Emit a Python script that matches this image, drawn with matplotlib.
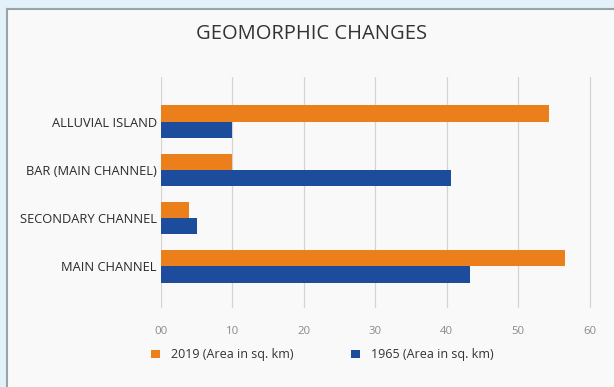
import numpy as np
import matplotlib
matplotlib.use("Agg")
import matplotlib.pyplot as plt
from matplotlib.patches import Rectangle

categories = ["ALLUVIAL ISLAND", "BAR (MAIN CHANNEL)", "SECONDARY CHANNEL", "MAIN CHANNEL"]
area_2019 = [54.3, 10.0, 4.0, 56.6]
area_1965 = [10.0, 40.6, 5.0, 43.2]
xticks = [0, 10, 20, 30, 40, 50, 60]
xtick_labels = ["00", "10", "20", "30", "40", "50", "60"]

orange = "#EB7F1C"
blue = "#1D4C9C"

plt.rcParams["font.family"] = ["Open Sans", "DejaVu Sans"]

fig = plt.figure(figsize=(6.14, 3.87), dpi=100)
fig.patch.set_facecolor("#f9f9f9")

# screenshot frame: light blue strip with grey inner edge
fig.patches.append(Rectangle((0, 0.978), 1, 0.022, transform=fig.transFigure,
                             facecolor="#e3f1fb", edgecolor="none", zorder=0))
fig.patches.append(Rectangle((0, 0), 0.009, 1, transform=fig.transFigure,
                             facecolor="#e3f1fb", edgecolor="none", zorder=0))
fig.add_artist(plt.Line2D([0.011, 1], [0.976, 0.976], transform=fig.transFigure,
                          color="#9aa3a6", lw=1.5))
fig.add_artist(plt.Line2D([0.011, 0.011], [0, 0.976], transform=fig.transFigure,
                          color="#9aa3a6", lw=1.5))

ax = fig.add_axes([0.262, 0.204, 0.702, 0.597])
ax.set_facecolor("#f9f9f9")

y = np.arange(len(categories))
h = 0.34
ax.barh(y - h / 2, area_2019, height=h, color=orange, label="2019 (Area in sq. km)", zorder=3)
ax.barh(y + h / 2, area_1965, height=h, color=blue, label="1965 (Area in sq. km)", zorder=3)

ax.set_ylim(3.87, -0.93)
ax.set_xlim(0, 60.3)
ax.set_yticks(y)
ax.set_yticklabels(categories, fontsize=9.3, color="#2a2a2a")
ax.set_xticks(xticks)
ax.set_xticklabels(xtick_labels, fontsize=8.2, color="#8a8a8a")
ax.tick_params(axis="both", length=0)
ax.tick_params(axis="x", pad=13)
ax.tick_params(axis="y", pad=3)
ax.grid(axis="x", color="#d4d4d4", lw=0.9, zorder=0)
for s in ax.spines.values():
    s.set_visible(False)

fig.text(0.508, 0.913, "GEOMORPHIC CHANGES", ha="center", va="center",
         fontsize=14.5, color="#333333")

fig.legend(loc="center", bbox_to_anchor=(0.525, 0.083), ncol=2, frameon=False,
           fontsize=9, handlelength=0.7, handleheight=0.7, columnspacing=4.6,
           handletextpad=0.9, labelcolor="#333333")

fig.savefig("out.png", dpi=100, facecolor=fig.get_facecolor())
